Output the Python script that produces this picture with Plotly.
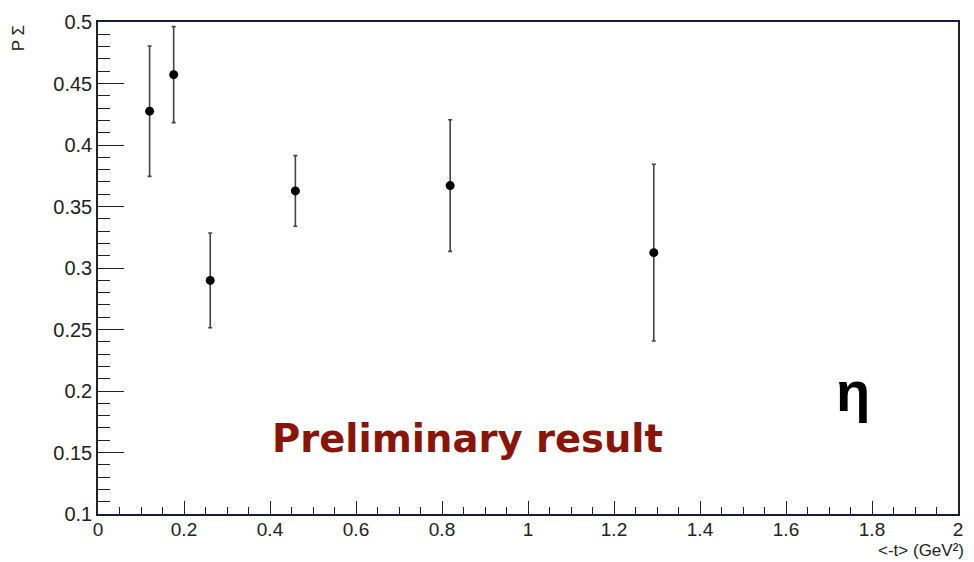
import plotly.graph_objects as go

t_vals = [0.120, 0.176, 0.261, 0.459, 0.819, 1.2925]
p_sigma = [0.4275, 0.4572, 0.2899, 0.3627, 0.3670, 0.3125]
p_err = [0.053, 0.039, 0.0385, 0.0287, 0.0535, 0.0718]

x_ticks = [0, 0.2, 0.4, 0.6, 0.8, 1, 1.2, 1.4, 1.6, 1.8, 2]
x_ticklabels = ["0", "0.2", "0.4", "0.6", "0.8", "1", "1.2", "1.4", "1.6", "1.8", "2"]
y_ticks = [0.1, 0.15, 0.2, 0.25, 0.3, 0.35, 0.4, 0.45, 0.5]
y_ticklabels = ["0.1", "0.15", "0.2", "0.25", "0.3", "0.35", "0.4", "0.45", "0.5"]

font_main = "Liberation Sans, Arial, sans-serif"

fig = go.Figure()
fig.add_trace(go.Scatter(
    x=t_vals, y=p_sigma, mode="markers",
    marker=dict(color="black", size=9, symbol="circle"),
    error_y=dict(type="data", array=p_err, visible=True, color="#444444",
                 thickness=1.6, width=2),
    showlegend=False, cliponaxis=False,
))

fig.update_layout(
    width=974, height=562,
    margin=dict(l=98, r=11, t=19, b=48),
    paper_bgcolor="white", plot_bgcolor="white",
    font=dict(family=font_main, size=19, color="#222222"),
    xaxis=dict(
        range=[0, 2], tickvals=x_ticks, ticktext=x_ticklabels,
        ticks="inside", ticklen=13, tickwidth=1.2, tickcolor="#222222",
        minor=dict(ticks="inside", ticklen=7, dtick=0.05, tickwidth=1.2, tickcolor="#222222", showgrid=False),
        showline=True, linecolor="#1a1a3a", linewidth=1.5, mirror=True,
        showgrid=False, zeroline=False, ticklabelstandoff=-3,
        tickfont=dict(size=19, family=font_main, color="#222222"),
    ),
    yaxis=dict(
        range=[0.1, 0.5], tickvals=y_ticks, ticktext=y_ticklabels,
        ticks="inside", ticklen=26, tickwidth=1.2, tickcolor="#222222",
        minor=dict(ticks="inside", ticklen=12, dtick=0.01, tickwidth=1.2, tickcolor="#222222", showgrid=False),
        showline=True, linecolor="#222222", linewidth=1.5, mirror=True,
        showgrid=False, zeroline=False,
        tickfont=dict(size=20, family=font_main, color="#222222"),
    ),
    annotations=[
        dict(text="P Σ", xref="paper", yref="paper", x=-0.0925, y=0.968,
             textangle=-90, showarrow=False, xanchor="center", yanchor="middle",
             font=dict(size=17, family=font_main, color="#222222")),
        dict(text="<-t> (GeV²)", xref="paper", yref="paper", x=1.008, y=-0.095,
             showarrow=False, xanchor="right", yanchor="bottom", borderpad=0,
             font=dict(size=17, family=font_main, color="#222222")),
        dict(text="<b>Preliminary result</b>", xref="x", yref="y", x=0.86, y=0.161,
             showarrow=False, xanchor="center", yanchor="middle",
             font=dict(size=38.5, family="DejaVu Sans, sans-serif", color="#8b1408")),
        dict(text="<b>η</b>", xref="x", yref="y", x=1.755, y=0.2,
             showarrow=False, xanchor="center", yanchor="middle",
             font=dict(size=56, family="Liberation Sans, Arial, sans-serif", color="black")),
    ],
)

fig.write_html("out.html")
